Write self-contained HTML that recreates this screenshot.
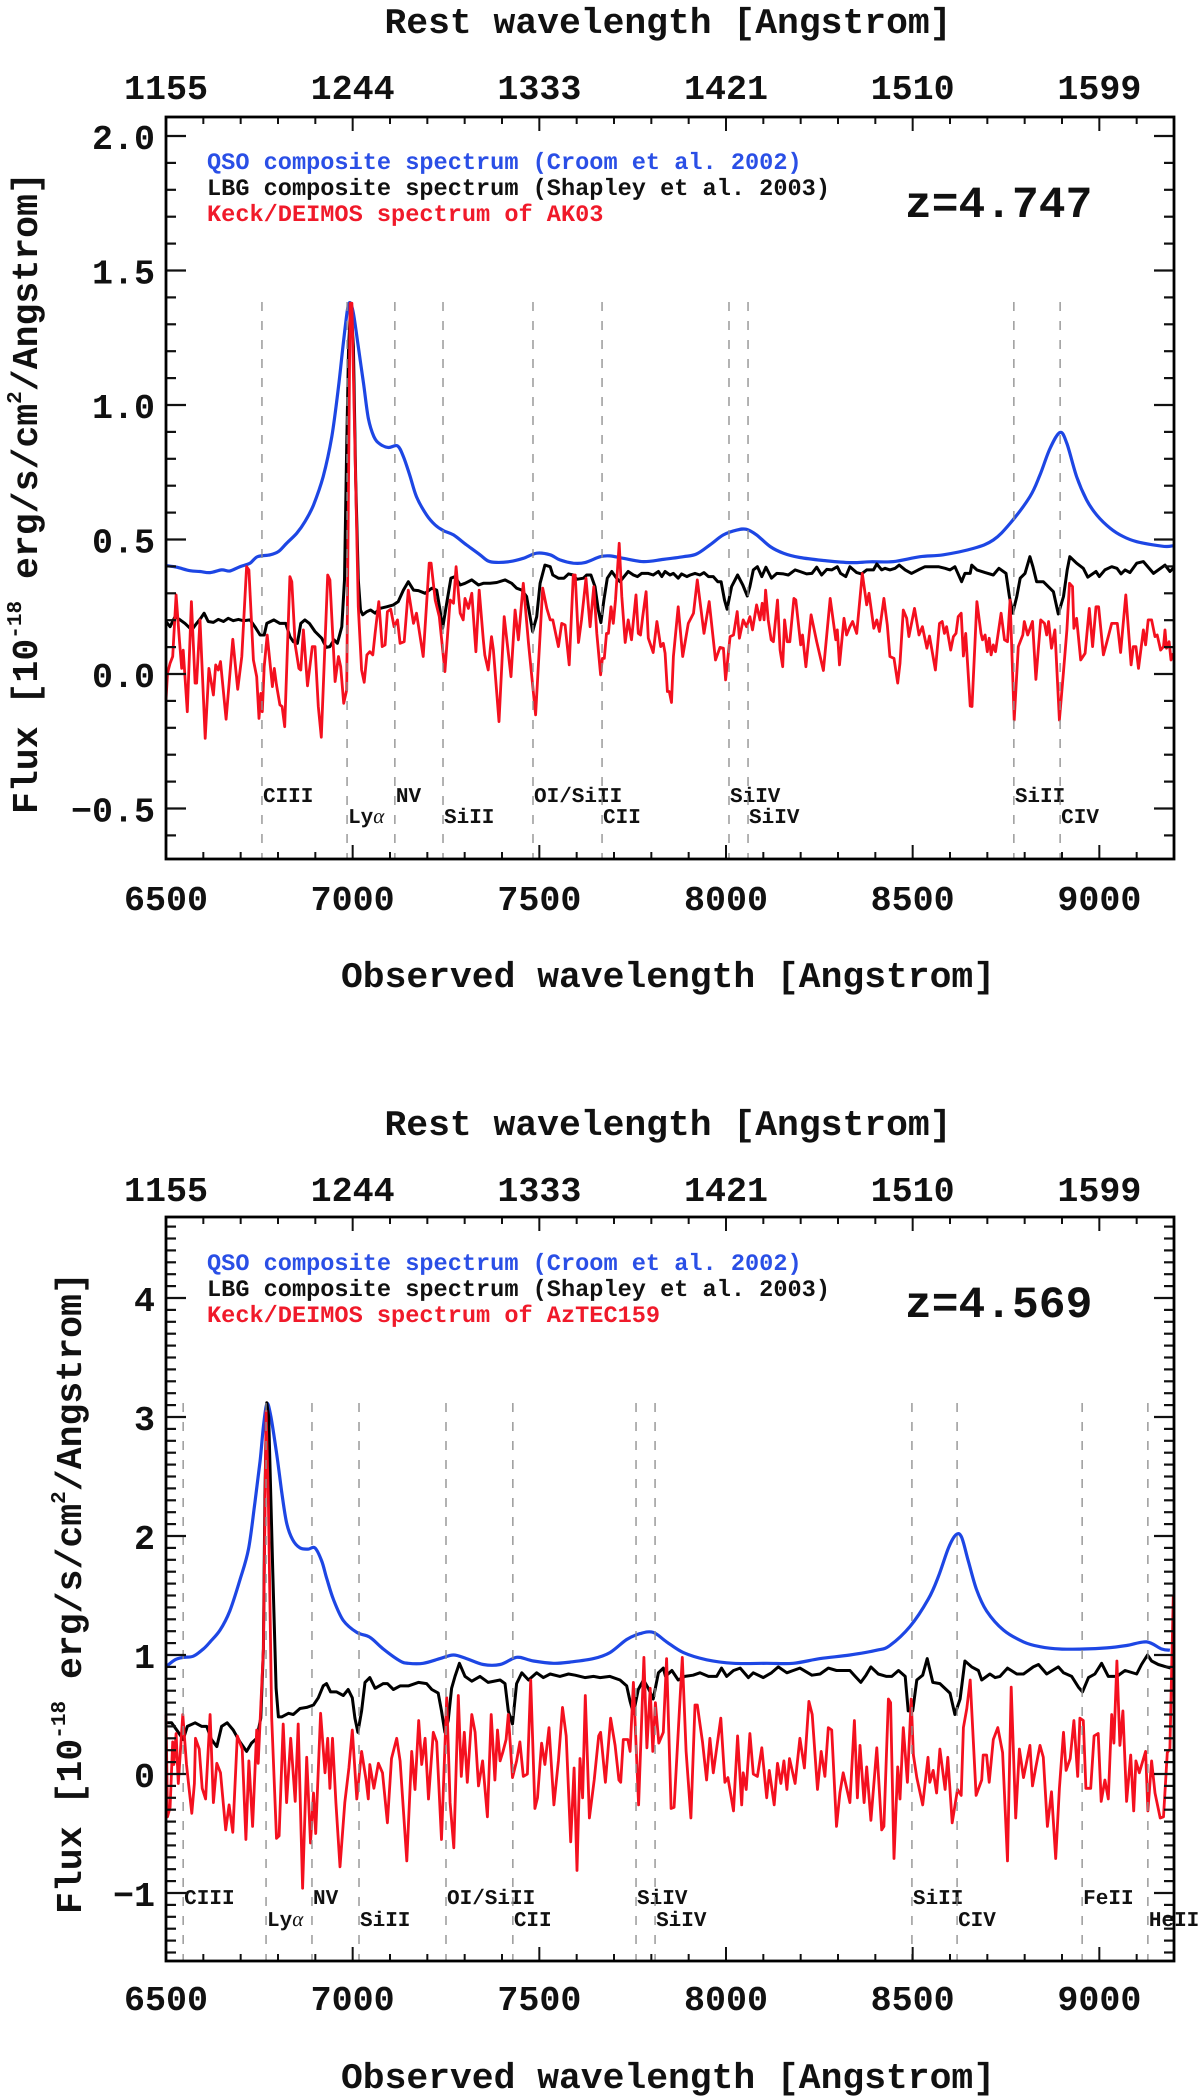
<!DOCTYPE html>
<html lang="en">
<head>
<meta charset="utf-8">
<title>QSO and LBG composite spectra versus Keck/DEIMOS spectra</title>
<style>
html,body{margin:0;padding:0;background:#fff;width:1200px;height:2098px;overflow:hidden}
svg{display:block}
text{font-family:"Liberation Mono",monospace;font-weight:bold;fill:#111;text-rendering:geometricPrecision}
</style>
</head>
<body>
<svg id="figure" xmlns="http://www.w3.org/2000/svg" width="1200" height="2098" viewBox="0 0 1200 2098">
<rect x="0" y="0" width="1200" height="2098" fill="#fff"/>

<g id="plotA">
<text x="668" y="33" font-size="36" text-anchor="middle" textLength="567" lengthAdjust="spacingAndGlyphs">Rest wavelength [Angstrom]</text>
<text x="668" y="987" font-size="36" text-anchor="middle" textLength="654" lengthAdjust="spacingAndGlyphs">Observed wavelength [Angstrom]</text>
<text transform="translate(37 814) rotate(-90)" font-size="36.5">Flux [10<tspan font-size="21" dy="-16">-18</tspan><tspan dy="16"> erg/s/cm</tspan><tspan font-size="21" dy="-16">2</tspan><tspan dy="16">/Angstrom]</tspan></text>
<text x="207" y="169" font-size="23.6" style="fill:#2a4fe6">QSO composite spectrum (Croom et al. 2002)</text>
<text x="207" y="195" font-size="23.6">LBG composite spectrum (Shapley et al. 2003)</text>
<text x="207" y="221" font-size="23.6" style="fill:#f01a2a">Keck/DEIMOS spectrum of AK03</text>
<text x="905" y="217" font-size="44.6">z=4.747</text>
</g>

<g id="plotB">
<text x="668" y="1135" font-size="36" text-anchor="middle" textLength="567" lengthAdjust="spacingAndGlyphs">Rest wavelength [Angstrom]</text>
<text x="668" y="2088" font-size="36" text-anchor="middle" textLength="654" lengthAdjust="spacingAndGlyphs">Observed wavelength [Angstrom]</text>
<text transform="translate(81 1914) rotate(-90)" font-size="36.5">Flux [10<tspan font-size="21" dy="-16">-18</tspan><tspan dy="16"> erg/s/cm</tspan><tspan font-size="21" dy="-16">2</tspan><tspan dy="16">/Angstrom]</tspan></text>
<text x="207" y="1270" font-size="23.6" style="fill:#2a4fe6">QSO composite spectrum (Croom et al. 2002)</text>
<text x="207" y="1296" font-size="23.6">LBG composite spectrum (Shapley et al. 2003)</text>
<text x="207" y="1322" font-size="23.6" style="fill:#f01a2a">Keck/DEIMOS spectrum of AzTEC159</text>
<text x="905" y="1317" font-size="44.6">z=4.569</text>
</g>
</svg>

<script>
// Shared axis labels
const xTickValues = [6500, 7000, 7500, 8000, 8500, 9000];
const topTickLabels = ['1155', '1244', '1333', '1421', '1510', '1599'];
const yTicksA = [2.0, 1.5, 1.0, 0.5, 0.0, -0.5];
const yTickLabelsA = ['2.0', '1.5', '1.0', '0.5', '0.0', '\u22120.5'];
const yTicksB = [4, 3, 2, 1, 0, -1];
const yTickLabelsB = ['4', '3', '2', '1', '0', '\u22121'];

// Emission / absorption features
const featureNamesA = ['CIII', 'Ly\u03b1', 'NV', 'SiII', 'OI/SiII', 'CII', 'SiIV', 'SiIV', 'SiII', 'CIV'];
const featureWaveA = [6757, 6985, 7113, 7242, 7483, 7668, 8008, 8059, 8771, 8895];
const featureNamesB = ['CIII', 'Ly\u03b1', 'NV', 'SiII', 'OI/SiII', 'CII', 'SiIV', 'SiIV', 'SiII', 'CIV', 'FeII', 'HeII'];
const featureWaveB = [6546, 6768, 6891, 7017, 7250, 7429, 7759, 7810, 8498, 8619, 8954, 9130];

// AK03 panel: QSO composite
const akBlueWave = [6500,6529,6564,6591,6618,6649,6671,6698,6725,6745,6779,6801,6823,6850,6872,6895,6921,6944,6962,6975,6986,6993,7002,7015,7029,7042,7057,7073,7096,7120,7136,7154,7171,7198,7221,7243,7270,7305,7341,7363,7386,7421,7457,7493,7529,7555,7591,7622,7663,7689,7725,7779,7832,7886,7921,7957,7993,8029,8055,8082,8118,8154,8198,8261,8332,8386,8448,8520,8582,8663,8716,8761,8814,8841,8868,8895,8913,8939,8966,8993,9029,9064,9100,9145,9180,9198];
const akBlueFlux = [.403,.397,.384,.381,.377,.387,.383,.399,.412,.436,.443,.455,.486,.523,.566,.628,.734,.882,1.068,1.229,1.353,1.380,1.341,1.217,1.081,.951,.882,.855,.842,.848,.808,.734,.659,.591,.554,.533,.517,.480,.443,.420,.415,.418,.430,.449,.443,.424,.412,.414,.436,.439,.430,.418,.426,.436,.446,.480,.517,.535,.538,.517,.474,.449,.433,.422,.414,.417,.418,.436,.443,.467,.498,.560,.659,.740,.839,.898,.857,.734,.647,.591,.542,.511,.492,.480,.474,.477];

// AK03 panel: LBG composite
const akBlackWave = [6500,6511,6524,6538,6551,6569,6582,6593,6602,6613,6627,6640,6654,6667,6680,6694,6707,6725,6738,6752,6763,6770,6789,6805,6821,6832,6841,6852,6861,6872,6884,6899,6917,6929,6939,6950,6959,6971,6978,6984,6989,6995,7002,7008,7015,7021,7027,7038,7048,7060,7073,7091,7109,7122,7136,7149,7163,7176,7194,7212,7225,7234,7241,7252,7263,7274,7288,7301,7319,7337,7350,7368,7386,7408,7426,7439,7453,7466,7482,7493,7502,7515,7529,7536,7551,7566,7578,7591,7600,7618,7627,7638,7649,7658,7665,7673,7682,7694,7707,7716,7727,7738,7752,7763,7774,7792,7805,7819,7828,7837,7850,7859,7872,7881,7895,7904,7917,7930,7941,7953,7966,7978,7987,7996,8003,8015,8031,8045,8057,8064,8073,8084,8096,8107,8122,8136,8154,8167,8185,8198,8216,8230,8243,8256,8270,8283,8298,8307,8321,8332,8350,8363,8377,8395,8404,8417,8426,8439,8453,8464,8480,8497,8515,8533,8546,8569,8587,8600,8613,8631,8640,8654,8658,8672,8694,8716,8731,8750,8759,8768,8779,8788,8801,8814,8822,8832,8850,8877,8890,8904,8914,8921,8939,8957,8969,8991,9000,9015,9033,9047,9058,9069,9082,9100,9118,9145,9176,9189,9198];
const akBlackFlux = [.195,.176,.213,.201,.188,.164,.188,.207,.226,.195,.192,.203,.195,.207,.198,.203,.198,.201,.176,.145,.145,.188,.201,.188,.188,.139,.120,.114,.188,.201,.188,.158,.133,.099,.102,.127,.114,.176,.350,.845,1.217,1.378,1.217,.721,.350,.238,.220,.232,.238,.226,.244,.250,.257,.269,.312,.343,.312,.310,.300,.319,.312,.238,.170,.263,.356,.362,.331,.337,.350,.331,.337,.337,.340,.350,.337,.319,.312,.288,.158,.213,.337,.405,.399,.368,.356,.356,.372,.368,.352,.356,.368,.368,.325,.238,.191,.275,.356,.381,.356,.343,.362,.381,.368,.362,.374,.374,.368,.381,.362,.381,.368,.374,.356,.372,.362,.368,.374,.368,.377,.362,.362,.343,.343,.275,.241,.325,.368,.331,.290,.325,.387,.399,.362,.397,.356,.374,.372,.368,.387,.381,.372,.374,.397,.368,.389,.387,.399,.374,.362,.399,.377,.372,.387,.387,.409,.387,.393,.387,.393,.405,.387,.374,.387,.399,.399,.399,.393,.387,.399,.343,.374,.374,.405,.387,.377,.368,.393,.374,.288,.226,.288,.356,.374,.436,.399,.343,.343,.306,.223,.288,.387,.436,.412,.393,.360,.381,.362,.387,.399,.393,.372,.387,.377,.412,.418,.374,.405,.381,.393];

// AK03 panel: Keck/DEIMOS spectrum
const akRedWave = [6500,6504,6511,6518,6527,6536,6542,6546,6557,6568,6578,6582,6591,6605,6615,6627,6633,6640,6646,6661,6679,6692,6703,6716,6722,6734,6743,6749,6754,6758,6763,6771,6785,6790,6796,6805,6811,6818,6832,6837,6846,6856,6861,6868,6879,6892,6899,6908,6916,6933,6939,6953,6962,6968,6976,6984,6993,6998,7015,7024,7031,7038,7046,7054,7060,7070,7079,7087,7093,7102,7111,7120,7127,7138,7149,7163,7171,7189,7205,7210,7221,7232,7247,7261,7270,7277,7288,7296,7301,7310,7319,7330,7339,7350,7354,7363,7372,7377,7392,7406,7424,7435,7444,7457,7471,7490,7509,7520,7529,7536,7551,7560,7569,7580,7591,7596,7605,7613,7625,7636,7646,7654,7664,7669,7674,7680,7685,7692,7698,7704,7714,7721,7730,7738,7747,7759,7765,7771,7777,7786,7792,7805,7815,7825,7832,7837,7843,7848,7854,7859,7872,7884,7899,7913,7923,7941,7955,7972,7984,7993,7999,8011,8020,8030,8036,8046,8055,8064,8071,8082,8091,8097,8102,8106,8113,8121,8127,8138,8145,8152,8157,8164,8171,8182,8187,8200,8205,8214,8228,8243,8261,8279,8294,8298,8304,8316,8323,8332,8339,8350,8365,8377,8383,8396,8404,8411,8423,8432,8439,8450,8460,8466,8475,8484,8490,8505,8517,8526,8538,8545,8561,8572,8579,8585,8591,8602,8609,8616,8622,8630,8636,8642,8654,8659,8672,8683,8687,8694,8700,8705,8710,8716,8722,8737,8746,8754,8761,8772,8783,8795,8799,8808,8821,8830,8843,8853,8859,8864,8872,8881,8893,8904,8913,8920,8928,8932,8939,8950,8962,8973,8982,8991,8998,9011,9018,9025,9033,9048,9057,9071,9085,9091,9098,9105,9118,9124,9131,9140,9149,9155,9164,9172,9176,9180,9187,9192,9198];
const akRedFlux = [-.096,.003,.040,.065,.294,.127,.021,.089,-.140,.269,-.034,-.034,.201,-.239,.021,-.078,.034,.015,.046,-.168,.129,-.057,.065,.399,.387,.052,-.010,-.165,-.072,-.140,.027,.145,-.047,.021,-.041,-.115,-.121,-.196,.362,.343,.108,.021,.015,.164,-.044,.102,.102,-.121,-.235,.368,.350,-.028,.065,.027,-.109,-.059,1.378,1.378,.250,.015,-.031,.071,.083,.071,.151,.269,.102,.108,.232,.241,.176,.201,.114,.120,.312,.188,.226,.065,.412,.412,.275,.213,.009,.275,.263,.399,.226,.201,.281,.244,.300,.083,.312,.127,.071,.015,.139,.089,-.177,.213,-.010,.238,.127,.337,.114,-.152,.319,.244,.201,.201,.102,.188,.182,.034,.368,.368,.117,.201,.356,.176,.325,.151,-.003,.058,.058,.151,.151,.250,.188,.275,.486,.288,.117,.201,.127,.294,.151,.145,.213,.306,.133,.080,.195,.102,.114,.077,-.065,-.065,-.106,.065,.250,.065,.188,.226,.350,.151,.269,.052,.099,.096,-.022,.139,.145,.232,.133,.201,.176,.213,.164,.257,.201,.263,.201,.312,.201,.127,.120,.275,.089,.027,.201,.120,.120,.281,.275,.108,.145,.027,.220,.120,.013,.281,.127,.164,.034,.207,.145,.176,.195,.151,.374,.257,.300,.170,.201,.158,.281,.182,.065,.058,-.034,.040,.238,.207,.139,.244,.145,.176,.096,.141,.015,.188,.195,.151,.176,.089,.139,.151,.213,.226,.067,.151,-.119,-.121,.269,.151,.127,.145,.083,.133,.071,.108,.083,.226,.127,.120,.275,-.171,.102,.145,.195,.145,.195,-.020,.201,.188,.145,.195,.096,.164,-.171,.009,.164,.337,.325,.170,.207,.052,.077,.244,.102,.250,.250,.071,.108,.145,.188,.188,.080,.294,.034,.102,.102,.021,.164,.108,.201,.201,.139,.145,.089,.102,.164,.096,.120,.052,.077];

// AzTEC159 panel: QSO composite
const azBlueWave = [6500,6524,6546,6573,6600,6618,6645,6671,6698,6721,6738,6752,6761,6770,6780,6796,6810,6823,6839,6859,6881,6899,6917,6930,6948,6975,7011,7046,7082,7127,7149,7189,7234,7270,7305,7350,7395,7429,7448,7484,7538,7582,7645,7689,7734,7770,7805,7841,7886,7948,8020,8109,8180,8252,8332,8404,8439,8493,8542,8569,8596,8616,8631,8649,8671,8698,8743,8797,8841,8895,8957,9020,9073,9127,9167,9189];
const azBlueFlux = [.90,.96,.98,.99,1.05,1.11,1.21,1.37,1.63,1.89,2.28,2.63,2.92,3.11,3.02,2.70,2.37,2.11,1.97,1.90,1.89,1.90,1.79,1.65,1.47,1.29,1.19,1.15,1.05,.95,.93,.93,.97,1.00,.97,.92,.92,.97,.98,.95,.93,.94,.97,1.02,1.13,1.18,1.19,1.11,1.02,.96,.93,.93,.93,.97,1.00,1.04,1.08,1.24,1.47,1.66,1.90,2.01,1.99,1.79,1.55,1.37,1.21,1.11,1.07,1.05,1.05,1.06,1.08,1.11,1.05,1.04];

// AzTEC159 panel: LBG composite
const azBlackWave = [6500,6515,6533,6546,6557,6578,6596,6609,6622,6636,6649,6664,6680,6698,6716,6729,6743,6754,6761,6765,6770,6775,6786,6795,6801,6810,6828,6841,6859,6877,6895,6908,6921,6930,6941,6957,6975,6988,6999,7006,7014,7024,7033,7046,7060,7082,7093,7109,7127,7149,7176,7198,7212,7229,7238,7247,7256,7265,7274,7286,7301,7319,7341,7363,7395,7408,7417,7428,7439,7453,7471,7493,7511,7529,7555,7578,7596,7622,7645,7663,7689,7716,7734,7743,7752,7765,7779,7792,7805,7819,7832,7838,7855,7872,7890,7912,7930,7953,7975,7988,8002,8020,8038,8060,8073,8100,8122,8140,8163,8180,8198,8230,8252,8274,8296,8332,8346,8361,8375,8388,8408,8430,8444,8462,8480,8488,8500,8511,8527,8539,8554,8573,8600,8613,8627,8640,8658,8676,8685,8707,8721,8734,8754,8779,8797,8823,8837,8859,8890,8904,8926,8944,8955,8971,8988,9006,9024,9047,9069,9100,9113,9129,9140,9158,9180,9191];
const azBlackFlux = [.43,.43,.35,.29,.40,.43,.40,.40,.29,.23,.40,.43,.37,.27,.19,.26,.30,.47,1.05,2.34,3.12,3.00,1.69,.72,.48,.48,.51,.50,.55,.56,.58,.64,.74,.76,.69,.69,.66,.71,.64,.47,.35,.53,.77,.81,.72,.76,.76,.71,.74,.74,.77,.76,.71,.68,.53,.35,.45,.72,.82,.93,.82,.78,.82,.77,.79,.76,.53,.42,.76,.85,.79,.85,.81,.84,.82,.84,.83,.81,.82,.81,.82,.79,.74,.61,.51,.71,.79,.72,.63,.85,.89,.82,.87,.79,.82,.83,.85,.82,.82,.89,.82,.87,.89,.81,.85,.81,.85,.90,.85,.87,.89,.83,.84,.89,.87,.87,.82,.77,.83,.90,.84,.82,.82,.87,.82,.53,.53,.79,.83,.97,.77,.76,.68,.50,.63,.95,.90,.87,.79,.84,.81,.82,.89,.84,.84,.90,.92,.84,.90,.85,.82,.73,.69,.81,.84,.93,.82,.82,.87,.84,.92,1.00,.95,.92,.90,.89];

// AzTEC159 panel: Keck/DEIMOS spectrum
const azRedWave = [6500,6504,6511,6518,6521,6527,6533,6545,6555,6560,6569,6576,6579,6589,6597,6606,6618,6627,6636,6646,6660,6669,6679,6691,6704,6714,6722,6732,6743,6747,6761,6768,6774,6783,6796,6803,6814,6823,6834,6846,6854,6866,6877,6887,6895,6901,6914,6926,6933,6939,6946,6955,6966,6979,6990,6999,7011,7024,7036,7042,7046,7057,7069,7080,7093,7104,7118,7127,7145,7158,7167,7177,7185,7194,7203,7216,7225,7238,7252,7261,7271,7283,7291,7299,7307,7319,7328,7337,7348,7361,7371,7381,7388,7395,7402,7411,7417,7428,7439,7448,7457,7468,7477,7488,7495,7506,7515,7526,7539,7551,7562,7572,7584,7593,7601,7609,7616,7623,7634,7647,7659,7664,7677,7691,7703,7713,7718,7725,7737,7743,7752,7766,7780,7788,7797,7804,7811,7820,7832,7841,7853,7861,7883,7893,7906,7917,7923,7937,7948,7957,7966,7986,7997,8005,8020,8031,8042,8046,8054,8064,8073,8084,8096,8109,8116,8129,8138,8147,8155,8163,8170,8185,8198,8210,8222,8231,8245,8255,8265,8274,8283,8296,8305,8314,8332,8344,8352,8359,8370,8377,8388,8404,8417,8423,8435,8441,8450,8460,8466,8475,8486,8496,8502,8511,8527,8541,8546,8555,8564,8573,8587,8594,8606,8620,8630,8636,8645,8654,8670,8685,8689,8698,8705,8716,8728,8741,8754,8764,8776,8786,8797,8814,8821,8830,8841,8850,8861,8872,8883,8893,8904,8911,8922,8932,8942,8948,8957,8964,8977,8986,8997,9005,9015,9024,9033,9039,9047,9055,9063,9073,9084,9092,9098,9107,9124,9130,9140,9149,9163,9172,9182,9189,9198];
const azRedFlux = [.50,-.36,-.28,.27,.08,.34,-.08,.50,.08,-.07,-.33,-.08,.30,.21,-.12,-.21,.50,-.24,.09,.01,-.47,-.26,-.49,.32,.21,-.55,.11,-.44,.37,.09,1.05,3.05,2.34,.47,-.54,-.52,.42,-.24,.30,-.23,.42,-.96,.14,-.58,-.16,-.50,.51,.01,.30,-.12,.30,-.24,-.78,-.24,.05,.37,-.21,.19,-.05,-.21,.08,-.12,.09,.01,-.41,.13,.30,.11,-.73,.19,-.13,.45,.08,.30,-.21,.35,.27,-.55,.64,-.24,-.62,.66,-.02,.35,-.07,.50,.35,-.10,.11,-.36,.50,-.05,.37,.11,.18,.29,.50,-.03,.11,.27,-.02,0,.79,-.29,-.20,.26,.08,.39,-.26,.11,.56,.32,-.57,.05,-.81,.13,-.20,.66,-.37,-.05,.32,.35,-.07,.47,.24,-.05,-.07,.29,.29,.19,.77,-.26,.98,.22,.72,.19,.60,.26,.35,.97,-.29,-.28,.98,.19,-.37,.58,.58,.27,-.05,.30,.01,.47,-.07,-.03,-.31,.32,-.26,.01,-.13,.34,0,-.02,.22,-.20,.03,-.26,.09,-.08,.11,-.13,.13,-.08,.30,.05,.61,.50,-.13,.19,-.02,.39,.37,-.44,-.16,.01,-.24,.45,-.20,.24,-.24,.06,-.39,.22,-.47,-.44,.63,.60,-.71,.06,-.21,.39,-.07,.63,.16,-.03,-.26,.14,-.07,.03,-.16,.21,-.13,.14,-.41,-.13,-.18,.39,.55,.79,-.18,-.05,.16,.16,-.07,.29,.39,.18,-.73,.73,-.37,.21,-.03,.24,-.10,.06,.24,.14,-.44,-.15,-.71,-.12,.35,.03,.13,.45,-.02,.47,.45,-.12,-.12,.32,.34,-.23,-.05,-.21,.50,.26,.95,.24,.53,-.23,.16,-.31,.11,.01,.19,-.31,.11,-.16,-.37,-.36,.18,.21,1.50];

const SVG_NS = 'http://www.w3.org/2000/svg';

function make(parent, tag, attrs, content) {
  const node = document.createElementNS(SVG_NS, tag);
  for (const key in attrs) node.setAttribute(key, attrs[key]);
  if (content !== undefined) node.textContent = content;
  parent.appendChild(node);
  return node;
}

function drawPanel(groupId, frame, yTicks, yTickLabels, featureNames, featureWave, blueWave, blueFlux, blackWave, blackFlux, redWave, redFlux) {
  const group = document.getElementById(groupId);
  const xScale = w => frame.left + (w - 6500) * (frame.right - frame.left) / 2700;
  const yScale = v => frame.y0 - v * frame.unit;
  const lineColor = '#111';

  // jagged spectra are straight segments, the QSO composite is a smooth curve through its values
  function series(wave, flux, color, width, name, smooth) {
    const n = Math.min(wave.length, flux.length);
    const xs = [], ys = [];
    for (let i = 0; i < n; i++) { xs.push(xScale(wave[i])); ys.push(yScale(flux[i])); }
    let d = 'M' + xs[0].toFixed(1) + ' ' + ys[0].toFixed(1);
    for (let i = 1; i < n; i++) {
      if (smooth) {
        const a = Math.max(i - 2, 0), b = i - 1, c = Math.min(i + 1, n - 1);
        const cx1 = xs[b] + (xs[i] - xs[a]) / 6, cy1 = ys[b] + (ys[i] - ys[a]) / 6;
        const cx2 = xs[i] - (xs[c] - xs[b]) / 6, cy2 = ys[i] - (ys[c] - ys[b]) / 6;
        d += 'C' + cx1.toFixed(1) + ' ' + cy1.toFixed(1) + ' ' + cx2.toFixed(1) + ' ' + cy2.toFixed(1) + ' ' + xs[i].toFixed(1) + ' ' + ys[i].toFixed(1);
      } else {
        d += 'L' + xs[i].toFixed(1) + ' ' + ys[i].toFixed(1);
      }
    }
    const line = make(group, 'path', {d: d, fill: 'none', stroke: color, 'stroke-width': width, 'stroke-linejoin': 'round'});
    
    
  }
  series(blueWave, blueFlux, '#1d46e4', 3.2, 'qso-composite-line', true);
  series(blackWave, blackFlux, '#000000', 3, 'lbg-composite-line', false);
  series(redWave, redFlux, '#f4101f', 2.8, 'keck-deimos-line', false);

  // feature markers and labels
  featureWave.forEach((w, i) => {
    const x = xScale(w);
    const marker = make(group, 'line', {x1: x, x2: x, y1: frame.lineTop, y2: frame.bottom, stroke: '#8f8f8f', 'stroke-width': 1.6, 'stroke-dasharray': '9 10', 'stroke-opacity': 0.85});
    
    
    const label = make(group, 'text', {x: x + 1, y: i % 2 === 0 ? frame.labelRow1 : frame.labelRow2, 'font-size': 21});
    
    
    const name = featureNames[i];
    if (name.indexOf('\u03b1') >= 0) {
      label.appendChild(document.createTextNode(name.slice(0, 2)));
      const greek = make(label, 'tspan', {style: 'font-family:"Liberation Serif",serif;font-style:italic;font-weight:normal'}, '\u03b1');
      
      
    } else {
      label.textContent = name;
    }
  });

  // x ticks, top and bottom
  for (let w = 6500; w <= 9200; w += 100) {
    const x = xScale(w);
    const len = w % 500 === 0 ? 14 : 7;
    const bottomTick = make(group, 'line', {x1: x, x2: x, y1: frame.bottom, y2: frame.bottom - len, stroke: lineColor, 'stroke-width': 2});
    
    
    const topTick = make(group, 'line', {x1: x, x2: x, y1: frame.top, y2: frame.top + len, stroke: lineColor, 'stroke-width': 2});
    
    
  }
  xTickValues.forEach((w, i) => {
    const bottomLabel = make(group, 'text', {x: xScale(w), y: frame.bottomLabelY, 'font-size': 35, 'text-anchor': 'middle'}, String(w));
    
    
    const topLabel = make(group, 'text', {x: xScale(w), y: frame.topLabelY, 'font-size': 35, 'text-anchor': 'middle'}, topTickLabels[i]);
    
    
  });

  // y ticks, left and right (minor every 0.1)
  const yMin = (frame.y0 - frame.bottom) / frame.unit;
  const yMax = (frame.y0 - frame.top) / frame.unit;
  for (let t = Math.ceil(yMin * 10); t <= Math.floor(yMax * 10); t++) {
    const y = yScale(t / 10);
    const len = t % frame.majorEvery === 0 ? 20 : 10;
    const leftTick = make(group, 'line', {x1: frame.left, x2: frame.left + len, y1: y, y2: y, stroke: lineColor, 'stroke-width': 2.2});
    
    
    const rightTick = make(group, 'line', {x1: frame.right, x2: frame.right - len, y1: y, y2: y, stroke: lineColor, 'stroke-width': 2.2});
    
    
  }
  yTicks.forEach((v, i) => {
    const tickLabel = make(group, 'text', {x: 155, y: yScale(v) + 13, 'font-size': 35, 'text-anchor': 'end'}, yTickLabels[i]);
    
    
  });

  // frame
  const box = make(group, 'rect', {x: frame.left, y: frame.top, width: frame.right - frame.left, height: frame.bottom - frame.top, fill: 'none', stroke: '#000', 'stroke-width': 2.8});
  
  
}

drawPanel('plotA',
  {left: 166, right: 1174, top: 117, bottom: 859, y0: 674, unit: 269, lineTop: 302, labelRow1: 802, labelRow2: 823, majorEvery: 5, topLabelY: 99, bottomLabelY: 910},
  yTicksA, yTickLabelsA, featureNamesA, featureWaveA,
  akBlueWave, akBlueFlux, akBlackWave, akBlackFlux, akRedWave, akRedFlux);

drawPanel('plotB',
  {left: 166, right: 1174, top: 1217, bottom: 1961, y0: 1774, unit: 119, lineTop: 1403, labelRow1: 1904, labelRow2: 1926, majorEvery: 10, topLabelY: 1201, bottomLabelY: 2010},
  yTicksB, yTickLabelsB, featureNamesB, featureWaveB,
  azBlueWave, azBlueFlux, azBlackWave, azBlackFlux, azRedWave, azRedFlux);
</script>
</body>
</html>
